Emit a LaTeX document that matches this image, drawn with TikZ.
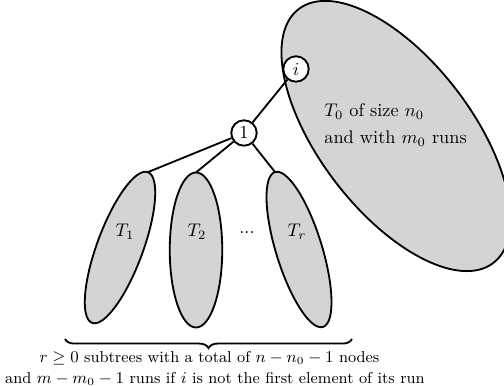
\documentclass[tikz,border=0pt]{standalone}
\usetikzlibrary{shapes.geometric,decorations.pathreplacing}
\definecolor{treefill}{gray}{0.83}
\begin{document}
\begin{tikzpicture}[x=0.5464pt,y=-0.5464pt,
  blob/.style={draw,fill=treefill,line width=1pt,ellipse,inner sep=0pt,outer sep=0pt},
  vertex/.style={draw,fill=white,circle,line width=1pt,inner sep=0pt,minimum size=13.9pt},
  link/.style={line width=1pt},
  caption/.style={anchor=base,inner sep=0pt,font=\fontsize{8.65}{10}\selectfont}]
\useasboundingbox (0,0) rectangle (504,386);
\node[blob,minimum width=174.8pt,minimum height=83.1pt,rotate=-52.5] (T0) at (396,136) {};
\node[blob,minimum width=25.1pt,minimum height=87.8pt,rotate=-20.3] (T1) at (120,247.5) {};
\node[blob,minimum width=28.7pt,minimum height=84.7pt] (T2) at (196,250) {};
\node[blob,minimum width=25.1pt,minimum height=88.6pt,rotate=17.2] (Tr) at (299,249.5) {};
\node[vertex] (i) at (296,69) {$i$};
\node[vertex] (one) at (244,133) {$1$};
\draw[link] (one) -- (i);
\draw[link] (one) -- (T1.north);
\draw[link] (one) -- (T2.north);
\draw[link] (one) -- (Tr.north);
\node (l1) at (125,232) {$T_1$};
\node (l2) at (197,232) {$T_2$};
\node (ld) at (247,233) {...};
\node (lr) at (297,232) {$T_r$};
\node[anchor=base west,inner sep=0pt] (t0a) at (324,117) {$T_0$ of size $n_0$};
\node[anchor=base west,inner sep=0pt] (t0b) at (324,144) {and with $m_0$ runs};
\coordinate (b1) at (65,339);
\coordinate (b2) at (352,339);
\draw[line width=1pt,decorate,decoration={brace,mirror,amplitude=5pt}] (b1) -- (b2);
\node[caption] (c1) at (209.5,363) {$r\geq 0$ subtrees with a total of $n-n_0-1$ nodes};
\node[caption] (c2) at (215,384) {and $m-m_0-1$ runs if $i$ is not the first element of its run};
\end{tikzpicture}
\end{document}
